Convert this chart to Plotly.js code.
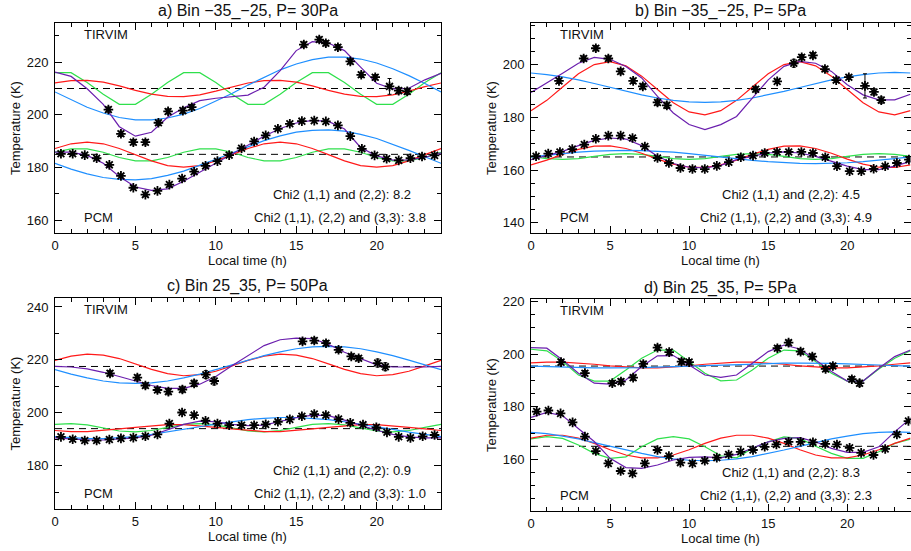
<!DOCTYPE html>
<html>
<head>
<meta charset="utf-8">
<script src="https://cdn.plot.ly/plotly-3.0.1.min.js"></script>
<style>
  html, body { margin: 0; padding: 0; background: #fff; }
  #chart { width: 911px; height: 551px; }
</style>
</head>
<body>
<div id="chart"></div>
<script>
// Local-time sampling of the fitted harmonic curves (h)
const hours = [0,1,2,3,4,5,6,7,8,9,10,11,12,13,14,15,16,17,18,19,20,21,22,23,24];

// ---------- a) Bin -35_-25, P = 30 Pa ----------
const aTirTime = [3.32,4.10,4.87,5.62,6.43,7.03,7.95,8.50,15.47,16.43,16.84,17.59,18.36,19.04,19.91,20.80,21.37,21.90];
const aTirTemp = [202.0,192.8,189.6,189.6,197.0,201.3,201.6,202.9,226.7,228.6,227.2,225.7,220.3,215.2,214.3,210.8,209.2,208.9];
const aTirErr  = [1.0,1.0,1.0,1.0,1.0,1.0,1.0,1.0,1.0,1.0,1.0,1.0,1.0,1.0,1.0,3.0,1.2,1.2];
const aTirFit  = [216.2,214.6,209.9,204.0,195.5,191.9,193.4,199.1,202.7,205.4,206.3,207.0,207.5,210.5,216.8,224.4,227.8,227.3,224.4,218.1,212.0,209.9,210.1,213.3,215.8];
const aTirDiu  = [208.7,205.7,202.9,200.7,199.0,198.1,198.1,198.8,200.3,202.4,205.1,208.1,211.3,214.3,217.1,219.3,221.0,221.9,221.9,221.2,219.7,217.5,214.9,211.9,208.7];
const aTirSemi = [212.1,213.0,213.1,212.4,211.0,209.3,207.9,207.0,206.9,207.6,209.0,210.7,212.1,213.0,213.1,212.4,211.0,209.3,207.9,207.0,206.9,207.6,209.0,210.7,212.1];
const aTirTer  = [216.0,216.0,212.3,207.8,204.0,204.0,207.8,212.3,216.0,216.0,212.3,207.8,204.0,204.0,207.8,212.3,216.0,216.0,212.3,207.8,204.0,204.0,207.8,212.3,216.0];
const aTirMean = 210;
const aPcmTime = [0.37,1.10,1.85,2.59,3.38,4.10,4.87,5.62,6.37,7.11,7.90,8.65,9.36,10.10,10.83,11.60,12.38,13.10,13.86,14.60,15.35,16.12,16.84,17.59,18.36,19.08,19.87,20.62,21.37,22.10,22.82,23.60];
const aPcmTemp = [185.2,185.2,184.7,183.5,181.0,176.8,172.3,169.7,171.1,173.5,175.8,178.4,180.6,182.4,184.7,187.3,189.9,192.2,194.7,196.6,197.6,197.8,197.5,196.0,191.9,187.1,184.6,183.3,182.7,183.5,184.2,184.6];
const aPcmFit  = [185.8,185.8,184.6,181.6,176.6,172.6,171.3,171.9,174.8,178.2,181.6,185.1,188.5,191.9,194.8,196.9,197.9,197.5,194.6,187.6,184.4,182.8,182.9,183.9,185.5];
const aPcmDiu  = [181.6,179.4,177.6,176.2,175.5,175.3,175.8,177.0,178.6,180.7,183.1,185.5,188.0,190.2,192.0,193.4,194.1,194.3,193.8,192.6,191.0,188.9,186.5,184.1,181.6];
const aPcmSemi = [187.2,189.0,189.6,189.0,187.2,184.9,182.5,180.7,180.1,180.7,182.5,184.9,187.2,189.0,189.6,189.0,187.2,184.9,182.5,180.7,180.1,180.7,182.5,184.9,187.2];
const aPcmTer  = [185.8,187.1,187.1,185.8,183.8,182.5,182.5,183.8,185.8,187.1,187.1,185.8,183.8,182.5,182.5,183.8,185.8,187.1,187.1,185.8,183.8,182.5,182.5,183.8,185.8];
const aPcmMean = 185;

// ---------- b) Bin -35_-25, P = 5 Pa ----------
const bTirTime = [1.77,3.33,4.10,4.89,5.67,6.46,7.07,8.00,8.59,14.21,15.57,16.62,17.12,17.83,18.59,19.30,20.10,21.12,21.69,22.15];
const bTirTemp = [193.9,202.4,206.3,202.4,197.5,193.9,191.8,185.7,184.6,190.7,193.7,200.6,202.9,203.6,198.4,194.2,195.3,192.0,189.7,186.6];
const bTirErr  = [1.0,1.0,1.0,1.0,1.0,1.0,1.0,1.2,1.2,1.0,0.8,1.5,1.0,1.0,1.0,0.8,0.8,4.6,1.2,1.2];
const bTirFit  = [189.5,193.0,196.8,200.6,202.8,202.1,199.4,195.0,188.0,181.7,177.3,175.4,177.3,180.4,187.4,194.3,199.4,201.3,200.6,197.5,192.4,188.6,186.7,186.7,188.8];
const bTirDiu  = [196.9,196.3,195.4,194.3,192.9,191.4,189.9,188.6,187.4,186.5,185.9,185.7,185.9,186.5,187.4,188.6,189.9,191.4,192.9,194.3,195.4,196.3,196.9,197.1,196.9];
const bTirSemi = [182.6,186.5,191.6,196.6,200.1,201.2,199.6,195.7,190.6,185.6,182.1,181.0,182.6,186.5,191.6,196.6,200.1,201.2,199.6,195.7,190.6,185.6,182.1,181.0,182.6];
const bTirMean = 191;
const bPcmTime = [0.32,1.09,1.83,2.61,3.37,4.10,4.89,5.67,6.42,7.20,8.00,8.72,9.45,10.21,10.99,11.75,12.51,13.27,14.04,14.78,15.56,16.30,17.10,17.83,18.61,19.35,20.15,20.89,21.67,22.40,23.14,23.90];
const bPcmTemp = [165.3,166.3,166.9,168.0,169.7,171.9,173.1,173.1,172.2,169.0,164.6,162.7,160.8,160.4,160.4,161.6,163.0,164.9,165.5,166.5,166.9,166.9,166.9,166.5,164.9,161.5,159.6,159.6,160.5,161.5,162.7,164.0];
const bPcmFit  = [164.0,165.5,167.1,169.3,171.3,172.2,171.8,169.3,165.3,162.5,161.1,160.8,161.8,164.0,165.2,166.5,166.9,166.5,165.2,163.3,161.5,160.2,160.2,161.5,163.3];
const bPcmDiu  = [165.0,165.6,166.3,166.8,167.2,167.4,167.5,167.4,167.2,166.8,166.3,165.6,165.0,164.4,163.7,163.2,162.8,162.6,162.5,162.6,162.8,163.2,163.7,164.4,165.0];
const bPcmSemi = [162.0,163.8,166.0,167.9,169.1,169.2,168.2,166.4,164.2,162.3,161.1,161.0,162.0,163.8,166.0,167.9,169.1,169.2,168.2,166.4,164.2,162.3,161.1,161.0,162.0];
const bPcmTer  = [165.2,164.4,164.1,164.4,165.2,166.0,166.3,166.0,165.2,164.4,164.1,164.4,165.2,166.0,166.3,166.0,165.2,164.4,164.1,164.4,165.2,166.0,166.3,166.0,165.2];
const bPcmMean = 165;

// ---------- c) Bin 25_35, P = 50 Pa ----------
const cTirTime = [3.42,5.12,5.62,6.37,7.05,7.92,8.65,9.38,9.90,15.39,16.12,16.85,17.63,18.42,18.88,20.06,20.54];
const cTirTemp = [214.9,213.3,210.3,208.6,208.0,208.8,211.1,214.4,212.0,227.0,227.3,226.3,223.8,221.3,220.6,218.8,217.4];
const cTirErr  = [1.0,1.0,1.0,1.0,1.2,1.2,1.2,1.5,1.5,1.0,1.0,1.0,1.0,1.0,1.0,1.5,1.5];
const cTirFit  = [217.5,217.3,216.6,215.3,213.7,212.0,210.3,209.2,209.2,210.8,213.7,217.8,221.6,225.4,227.6,228.2,228.0,225.9,222.9,220.4,218.1,217.3,217.2,217.3,217.5];
const cTirDiu  = [216.3,214.6,213.2,212.0,211.3,211.1,211.3,212.0,213.2,214.6,216.3,218.1,219.9,221.6,223.0,224.2,224.9,225.1,224.9,224.2,223.0,221.6,219.9,218.1,216.3];
const cTirSemi = [219.8,221.4,222.2,221.8,220.5,218.5,216.4,214.8,214.0,214.4,215.7,217.7,219.8,221.4,222.2,221.8,220.5,218.5,216.4,214.8,214.0,214.4,215.7,217.7,219.8];
const cTirMean = 217.5;
const cPcmTime = [0.37,1.10,1.85,2.59,3.38,4.10,4.87,5.62,6.37,7.11,7.90,8.65,9.36,10.10,10.83,11.60,12.38,13.10,13.86,14.60,15.35,16.12,16.84,17.63,18.36,19.15,19.98,20.64,21.37,22.10,22.86,23.60];
const cPcmTemp = [190.9,190.0,189.5,189.5,189.9,190.3,190.6,191.1,191.8,195.9,200.1,199.1,197.0,195.9,195.3,195.3,195.3,195.6,196.6,197.5,198.7,199.5,199.1,197.6,196.2,195.5,194.5,192.6,190.9,190.5,191.1,191.6];
const cPcmFit  = [190.5,190.0,189.7,189.7,190.0,190.5,191.5,193.4,195.6,196.8,196.6,195.6,195.1,195.3,196.6,198.1,199.1,198.9,197.2,195.3,193.4,191.8,190.9,190.5,190.5];
const cPcmDiu  = [191.0,190.5,190.2,190.2,190.5,191.0,191.8,192.7,193.7,194.7,195.7,196.6,197.4,197.9,198.2,198.2,197.9,197.4,196.6,195.7,194.7,193.7,192.7,191.8,191.0];
const cPcmSemi = [193.3,192.9,192.9,193.3,193.9,194.5,195.1,195.5,195.5,195.1,194.5,193.9,193.3,192.9,192.9,193.3,193.9,194.5,195.1,195.5,195.5,195.1,194.5,193.9,193.3];
const cPcmTer  = [195.6,195.9,195.4,194.3,193.1,192.8,193.3,194.5,195.6,195.9,195.4,194.3,193.1,192.8,193.3,194.5,195.6,195.9,195.4,194.3,193.1,192.8,193.3,194.5,195.6];
const cPcmMean = 194;

// ---------- d) Bin 25_35, P = 5 Pa ----------
const dTirTime = [1.90,3.41,5.14,5.69,6.46,7.10,8.00,8.74,9.52,10.00,15.58,16.29,17.05,17.79,18.63,19.09,20.29,20.78];
const dTirTemp = [197.0,192.8,189.0,189.6,191.1,196.3,202.5,200.8,197.2,197.0,202.3,204.4,201.0,199.1,194.4,195.5,190.5,189.0];
const dTirErr  = [1.0,1.0,1.0,1.0,1.0,1.0,1.0,1.0,1.0,1.0,1.0,1.0,1.0,1.0,1.0,1.0,1.0,1.2];
const dTirFit  = [202.5,202.3,197.8,192.8,189.0,188.6,190.2,195.3,199.4,199.5,195.9,192.1,191.2,192.1,196.6,201.0,203.5,202.0,197.8,193.4,189.8,189.8,194.7,199.1,201.6];
const dTirDiu  = [195.5,195.3,195.1,194.9,194.8,194.8,194.8,194.9,195.1,195.3,195.5,195.7,195.9,196.2,196.3,196.5,196.6,196.6,196.6,196.5,196.3,196.2,195.9,195.7,195.5];
const dTirSemi = [196.7,197.0,197.0,196.7,196.2,195.6,195.1,194.8,194.8,195.1,195.6,196.2,196.7,197.0,197.0,196.7,196.2,195.6,195.1,194.8,194.8,195.1,195.6,196.2,196.7];
const dTirTer  = [201.9,201.3,197.2,192.1,189.8,189.8,194.0,198.5,201.6,201.6,197.2,192.8,189.9,190.2,194.0,198.5,201.6,201.3,197.2,192.8,189.8,189.8,194.4,198.5,201.3];
const dTirMean = 195.5;
const dPcmTime = [0.36,1.10,1.87,2.63,3.41,4.10,4.89,5.67,6.42,7.20,8.00,8.72,9.45,10.21,10.99,11.75,12.50,13.26,14.04,14.78,15.52,16.29,17.05,17.83,18.61,19.35,20.15,20.88,21.66,22.40,23.14,23.87];
const dPcmTemp = [178.2,178.6,177.5,174.1,168.7,163.2,158.5,155.6,154.7,158.5,163.6,161.3,158.8,158.5,159.5,160.7,161.9,162.9,163.6,164.8,165.7,166.7,166.7,166.5,165.9,165.7,164.4,162.5,161.7,164.0,169.5,174.6];
const dPcmFit  = [176.0,177.9,176.6,171.8,166.8,160.4,156.9,156.6,157.9,159.8,160.8,161.0,160.6,161.9,164.2,166.7,168.0,168.3,166.7,164.2,162.7,162.7,164.8,170.5,175.6];
const dPcmDiu  = [170.3,169.8,168.9,167.8,166.4,165.0,163.6,162.3,161.1,160.2,159.7,159.5,159.7,160.2,161.1,162.3,163.6,165.0,166.4,167.8,168.9,169.8,170.3,170.5,170.3];
const dPcmSemi = [168.1,169.2,169.2,168.1,166.1,163.7,161.7,160.6,160.6,161.7,163.7,166.1,168.1,169.2,169.2,168.1,166.1,163.7,161.7,160.6,160.6,161.7,163.7,166.1,168.1];
const dPcmTer  = [167.8,168.7,168.0,165.5,162.3,160.4,161.0,164.8,167.8,168.7,167.8,164.8,161.4,160.6,164.2,166.7,168.6,168.0,165.0,162.3,160.4,160.4,162.9,166.1,167.7];
const dPcmMean = 165;

// Panel titles and fit-quality notes
const panelTitles = ['a) Bin \u221235_\u221225, P= 30Pa', 'b) Bin \u221235_\u221225, P= 5Pa', 'c) Bin 25_35, P= 50Pa', 'd) Bin 25_35, P= 5Pa'];
const chiTwoWaves   = ['8.2', '4.5', '0.9', '8.3'];
const chiThreeWaves = ['3.8', '4.9', '1.0', '2.3'];

// ---------- drawing ----------
const COL = { fit: '#6b1fae', diu: '#1f8fff', semi: '#ff1a1a', ter: '#2fe04c', pt: '#000000' };
const W = 911, H = 551;
const px = v => v / W;
const py = v => 1 - v / H;

const panels = [
  { xa: 'x',  ya: 'y',
    tir: { t: aTirTime, v: aTirTemp, e: aTirErr, fit: aTirFit, diu: aTirDiu, semi: aTirSemi, ter: aTirTer, mean: aTirMean },
    pcm: { t: aPcmTime, v: aPcmTemp, fit: aPcmFit, diu: aPcmDiu, semi: aPcmSemi, ter: aPcmTer, mean: aPcmMean } },
  { xa: 'x2', ya: 'y2',
    tir: { t: bTirTime, v: bTirTemp, e: bTirErr, fit: bTirFit, diu: bTirDiu, semi: bTirSemi, ter: null, mean: bTirMean },
    pcm: { t: bPcmTime, v: bPcmTemp, fit: bPcmFit, diu: bPcmDiu, semi: bPcmSemi, ter: bPcmTer, mean: bPcmMean } },
  { xa: 'x3', ya: 'y3',
    tir: { t: cTirTime, v: cTirTemp, e: cTirErr, fit: cTirFit, diu: cTirDiu, semi: cTirSemi, ter: null, mean: cTirMean },
    pcm: { t: cPcmTime, v: cPcmTemp, fit: cPcmFit, diu: cPcmDiu, semi: cPcmSemi, ter: cPcmTer, mean: cPcmMean } },
  { xa: 'x4', ya: 'y4',
    tir: { t: dTirTime, v: dTirTemp, e: dTirErr, fit: dTirFit, diu: dTirDiu, semi: dTirSemi, ter: dTirTer, mean: dTirMean },
    pcm: { t: dPcmTime, v: dPcmTemp, fit: dPcmFit, diu: dPcmDiu, semi: dPcmSemi, ter: dPcmTer, mean: dPcmMean } }
];

const traces = [];
function line(xa, ya, x, y, color, dash, width) {
  traces.push({ type: 'scatter', mode: 'lines', xaxis: xa, yaxis: ya, x: x, y: y,
    line: { color: color, width: width || 1.2, dash: dash || 'solid' }, hoverinfo: 'skip' });
}
function group(p, g, withErr) {
  line(p.xa, p.ya, [hours[0], hours[hours.length - 1]], [g.mean, g.mean], '#000', '7px,5px', 1);
  if (g.ter) line(p.xa, p.ya, hours, g.ter, COL.ter);
  line(p.xa, p.ya, hours, g.semi, COL.semi);
  line(p.xa, p.ya, hours, g.diu, COL.diu);
  line(p.xa, p.ya, hours, g.fit, COL.fit);
  const pts = { type: 'scatter', mode: 'markers', xaxis: p.xa, yaxis: p.ya, x: g.t, y: g.v,
    marker: { symbol: 'asterisk-open', size: 8, color: COL.pt, line: { color: COL.pt, width: 1.8 } },
    hoverinfo: 'skip' };
  if (withErr) pts.error_y = { type: 'data', array: g.e, visible: true, color: '#000', thickness: 1, width: 2 };
  traces.push(pts);
}
panels.forEach(p => { group(p, p.tir, true); group(p, p.pcm, false); });

// Plot boxes (pixels): left, right, top, bottom
const boxes = [
  [55, 441, 22.7, 233.3],
  [531, 910.5, 22.7, 233.3],
  [55, 441, 297.7, 509.3],
  [531, 910.5, 299, 511]
];
const yRanges = [[155, 235], [136, 216], [163.5, 243.5], [140.4, 221]];
const yMinor = [10, 5, 10, 5];

const font = { family: 'Liberation Sans, Arial, Helvetica, sans-serif', size: 13, color: '#111' };
const layout = {
  width: W, height: H, margin: { l: 0, r: 0, t: 0, b: 0 },
  paper_bgcolor: '#fff', plot_bgcolor: '#fff', showlegend: false, hovermode: false,
  font: font, annotations: []
};
const axBase = {
  showgrid: false, zeroline: false, showline: true, linecolor: '#000', linewidth: 1,
  mirror: 'allticks', ticks: 'inside', ticklen: 7, tickwidth: 1, tickcolor: '#000',
  tickfont: { family: font.family, size: 13, color: '#111' }
};
boxes.forEach((b, i) => {
  const n = i === 0 ? '' : String(i + 1);
  layout['xaxis' + n] = Object.assign({}, axBase, {
    domain: [px(b[0]), px(b[1])], anchor: 'y' + n, range: [0, 24],
    tick0: 0, dtick: 5, minor: { dtick: 1, ticklen: 4, ticks: 'inside', tickcolor: '#000' }
  });
  layout['yaxis' + n] = Object.assign({}, axBase, {
    domain: [py(b[3]), py(b[2])], anchor: 'x' + n, range: yRanges[i],
    tick0: 0, dtick: 20, ticklabelstandoff: 3,
    minor: { dtick: yMinor[i], ticklen: 4, ticks: 'inside', tickcolor: '#000' }
  });
  const cx = (b[0] + b[1]) / 2;
  const A = layout.annotations;
  A.push({ xref: 'paper', yref: 'paper', x: px(cx), y: py(b[2] - 11.5), text: panelTitles[i],
    showarrow: false, xanchor: 'center', yanchor: 'middle', font: { family: font.family, size: 16, color: '#111' } });
  A.push({ xref: 'paper', yref: 'paper', x: px(cx), y: py(b[3] + 27), text: 'Local time (h)',
    showarrow: false, xanchor: 'center', yanchor: 'middle', font: { family: font.family, size: 13, color: '#111' } });
  A.push({ xref: 'paper', yref: 'paper', x: px(b[0] - 40), y: py((b[2] + b[3]) / 2), text: 'Temperature (K)',
    textangle: -90, showarrow: false, xanchor: 'center', yanchor: 'middle', font: { family: font.family, size: 13, color: '#111' } });
  A.push({ xref: 'paper', yref: 'paper', x: px(b[0] + 27), y: py(b[2] + 11.5), text: 'TIRVIM',
    showarrow: false, xanchor: 'left', yanchor: 'middle', font: font });
  A.push({ xref: 'paper', yref: 'paper', x: px(b[0] + 27), y: py(b[3] - 16), text: 'PCM',
    showarrow: false, xanchor: 'left', yanchor: 'middle', font: font });
  const shift = i % 2 === 0 ? 0 : -27;
  A.push({ xref: 'paper', yref: 'paper', x: px(b[0] + 287 + shift), y: py(b[3] - 38.5),
    text: 'Chi2 (1,1) and (2,2): ' + chiTwoWaves[i],
    showarrow: false, xanchor: 'center', yanchor: 'middle', font: font });
  A.push({ xref: 'paper', yref: 'paper', x: px(b[0] + 285 + (i % 2 === 0 ? 0 : -30)), y: py(b[3] - 15.5),
    text: 'Chi2 (1,1), (2,2) and (3,3): ' + chiThreeWaves[i],
    showarrow: false, xanchor: 'center', yanchor: 'middle', font: font });
});

Plotly.newPlot('chart', traces, layout, { displayModeBar: false, staticPlot: true });
</script>
</body>
</html>
